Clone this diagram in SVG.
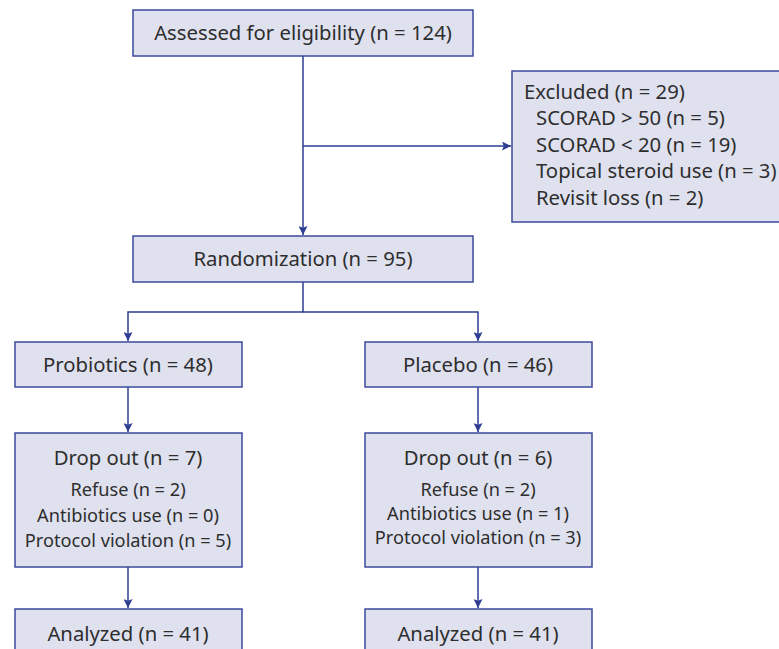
<svg xmlns="http://www.w3.org/2000/svg" width="779" height="649" viewBox="0 0 779 649">
<style>
.box{fill:#dfe1ee;stroke:#3d4a9c;stroke-width:1.5}
.ln{fill:none;stroke:#2f3e94;stroke-width:1.5}
text{font-family:"Noto Sans","Liberation Sans",Arial,sans-serif;fill:#2e2e2e;dominant-baseline:central}
.t{font-size:20.3px}
.s{font-size:18.2px}
.c{text-anchor:middle}
</style>
<defs>
<marker id="ah" viewBox="0 0 10 10" refX="10" refY="5" markerWidth="10" markerHeight="9" markerUnits="userSpaceOnUse" orient="auto">
<path d="M0,0 L10,5 L0,10 L2,5 Z" fill="#2f3e94"/>
</marker>
</defs>
<g id="connectors">
<line class="ln" x1="303" y1="56" x2="303" y2="235" marker-end="url(#ah)"/>
<line class="ln" x1="303" y1="146" x2="511" y2="146" marker-end="url(#ah)"/>
<polyline class="ln" points="303,282 303,312 128,312 128,341" marker-end="url(#ah)"/>
<polyline class="ln" points="303,312 478,312 478,341" marker-end="url(#ah)"/>
<line class="ln" x1="128" y1="387" x2="128" y2="432" marker-end="url(#ah)"/>
<line class="ln" x1="478" y1="387" x2="478" y2="432" marker-end="url(#ah)"/>
<line class="ln" x1="128" y1="567" x2="128" y2="608" marker-end="url(#ah)"/>
<line class="ln" x1="478" y1="567" x2="478" y2="608" marker-end="url(#ah)"/>
</g>
<g id="assessed">
<rect class="box" x="133" y="10" width="340" height="46"/>
<text class="t c" x="303" y="31.5">Assessed for eligibility (n = 124)</text>
</g>
<g id="excluded">
<rect class="box" x="512" y="71" width="280" height="151"/>
<text class="t" x="524" y="90.5">Excluded (n = 29)</text>
<text class="t" x="536" y="117">SCORAD &gt; 50 (n = 5)</text>
<text class="t" x="536" y="143.5">SCORAD &lt; 20 (n = 19)</text>
<text class="t" x="536" y="170">Topical steroid use (n = 3)</text>
<text class="t" x="536" y="196.5">Revisit loss (n = 2)</text>
</g>
<g id="randomization">
<rect class="box" x="133" y="236" width="340" height="46"/>
<text class="t c" x="303" y="257.5">Randomization (n = 95)</text>
</g>
<g id="probiotics">
<rect class="box" x="15" y="342" width="227" height="45"/>
<text class="t c" x="128" y="363.5">Probiotics (n = 48)</text>
</g>
<g id="placebo">
<rect class="box" x="365" y="342" width="227" height="45"/>
<text class="t c" x="478" y="363.5">Placebo (n = 46)</text>
</g>
<g id="dropout1">
<rect class="box" x="15" y="433" width="227" height="134"/>
<text class="t c" x="128" y="456.5">Drop out (n = 7)</text>
<text class="s c" x="128" y="488.5">Refuse (n = 2)</text>
<text class="s c" x="128" y="514.5">Antibiotics use (n = 0)</text>
<text class="s c" x="128" y="539.5">Protocol violation (n = 5)</text>
</g>
<g id="dropout2">
<rect class="box" x="365" y="433" width="227" height="134"/>
<text class="t c" x="478" y="456.5">Drop out (n = 6)</text>
<text class="s c" x="478" y="488.5">Refuse (n = 2)</text>
<text class="s c" x="478" y="512.5">Antibiotics use (n = 1)</text>
<text class="s c" x="478" y="536.5">Protocol violation (n = 3)</text>
</g>
<g id="analyzed1">
<rect class="box" x="15" y="609" width="227" height="50"/>
<text class="t c" x="128" y="632.5">Analyzed (n = 41)</text>
</g>
<g id="analyzed2">
<rect class="box" x="365" y="609" width="227" height="50"/>
<text class="t c" x="478" y="632.5">Analyzed (n = 41)</text>
</g>
</svg>
